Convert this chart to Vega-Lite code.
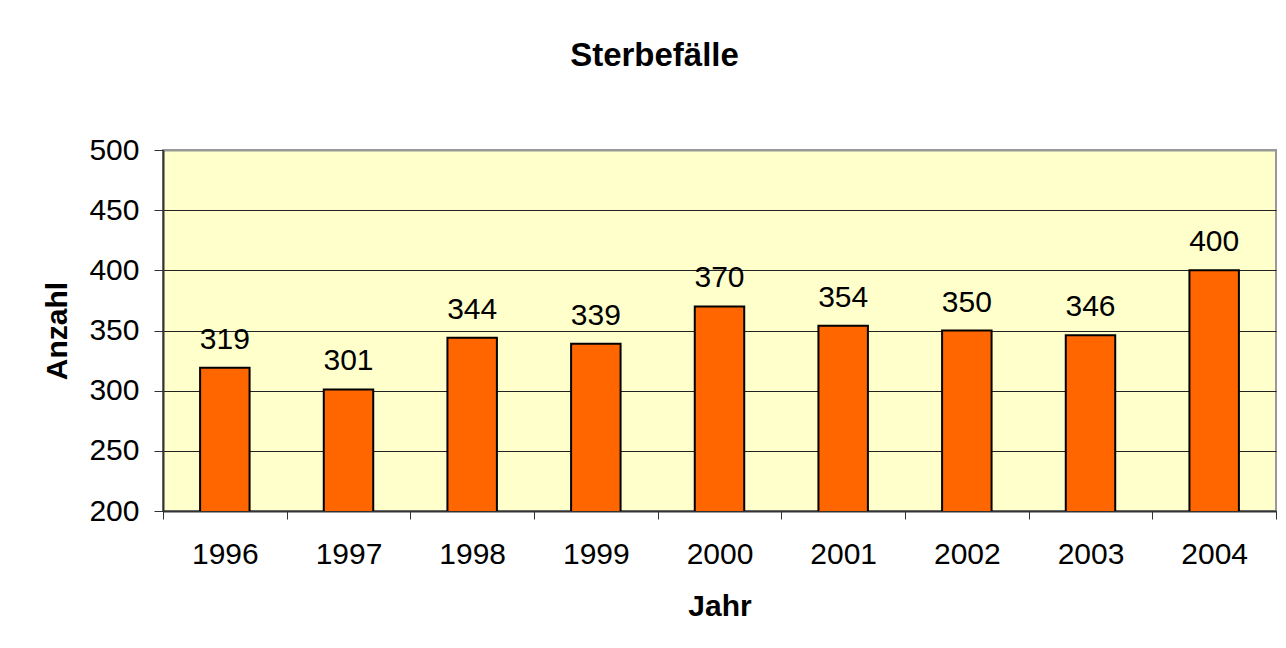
{
  "$schema": "https://vega.github.io/schema/vega-lite/v6.json",
  "width": 1113,
  "height": 361,
  "autosize": {"type": "none"},
  "padding": {"left": 163, "top": 150, "right": 10, "bottom": 137},
  "background": "white",
  "title": {
    "text": "Sterbefälle",
    "font": "Liberation Sans",
    "fontSize": 33,
    "fontWeight": "bold",
    "color": "black",
    "anchor": "middle",
    "baseline": "alphabetic",
    "offset": 36,
    "dx": -65
  },
  "data": {
    "values": [
      {"Jahr": "1996", "Anzahl": 319},
      {"Jahr": "1997", "Anzahl": 301},
      {"Jahr": "1998", "Anzahl": 344},
      {"Jahr": "1999", "Anzahl": 339},
      {"Jahr": "2000", "Anzahl": 370},
      {"Jahr": "2001", "Anzahl": 354},
      {"Jahr": "2002", "Anzahl": 350},
      {"Jahr": "2003", "Anzahl": 346},
      {"Jahr": "2004", "Anzahl": 400}
    ]
  },
  "encoding": {
    "x": {
      "field": "Jahr",
      "type": "nominal",
      "sort": null,
      "scale": {"paddingInner": 0, "paddingOuter": 0},
      "axis": {
        "title": "Jahr",
        "titleFont": "Liberation Sans",
        "titleFontSize": 30,
        "titleFontWeight": "bold",
        "titleColor": "black",
        "titleBaseline": "alphabetic",
        "titleY": 104,
        "labelFont": "Liberation Sans",
        "labelFontSize": 30,
        "labelColor": "black",
        "labelAngle": 0,
        "labelBaseline": "alphabetic",
        "labelPadding": 44,
        "tickBand": "extent",
        "tickSize": 8,
        "tickColor": "#333333",
        "tickWidth": 1,
        "domainColor": "#333333",
        "domainWidth": 2,
        "grid": false
      }
    },
    "y": {
      "field": "Anzahl",
      "type": "quantitative",
      "scale": {"domain": [200, 500], "zero": false, "nice": false},
      "axis": {
        "title": "Anzahl",
        "titleFont": "Liberation Sans",
        "titleFontSize": 30,
        "titleFontWeight": "bold",
        "titleColor": "black",
        "titleX": -106,
        "titleBaseline": "middle",
        "values": [200, 250, 300, 350, 400, 450, 500],
        "labelFont": "Liberation Sans",
        "labelFontSize": 30,
        "labelColor": "black",
        "labelPadding": 15,
        "tickSize": 9,
        "tickColor": "#333333",
        "tickWidth": 1,
        "domainColor": "#333333",
        "domainWidth": 2,
        "grid": true,
        "gridColor": {"condition": {"test": "datum.value === 500", "value": "#999999"}, "value": "#222222"},
        "gridWidth": {"condition": {"test": "datum.value === 500", "value": 2}, "value": 1}
      }
    }
  },
  "layer": [
    {
      "mark": {
        "type": "bar",
        "clip": true,
        "width": {"band": 0.4},
        "color": "#FF6600",
        "stroke": "black",
        "strokeWidth": 2
      }
    },
    {
      "mark": {
        "type": "text",
        "font": "Liberation Sans",
        "fontSize": 30,
        "color": "black",
        "baseline": "alphabetic",
        "dy": -19
      },
      "encoding": {"text": {"field": "Anzahl", "type": "quantitative"}}
    }
  ],
  "config": {
    "view": {"fill": "#FFFFCC", "stroke": "#999999", "strokeWidth": 2}
  }
}
